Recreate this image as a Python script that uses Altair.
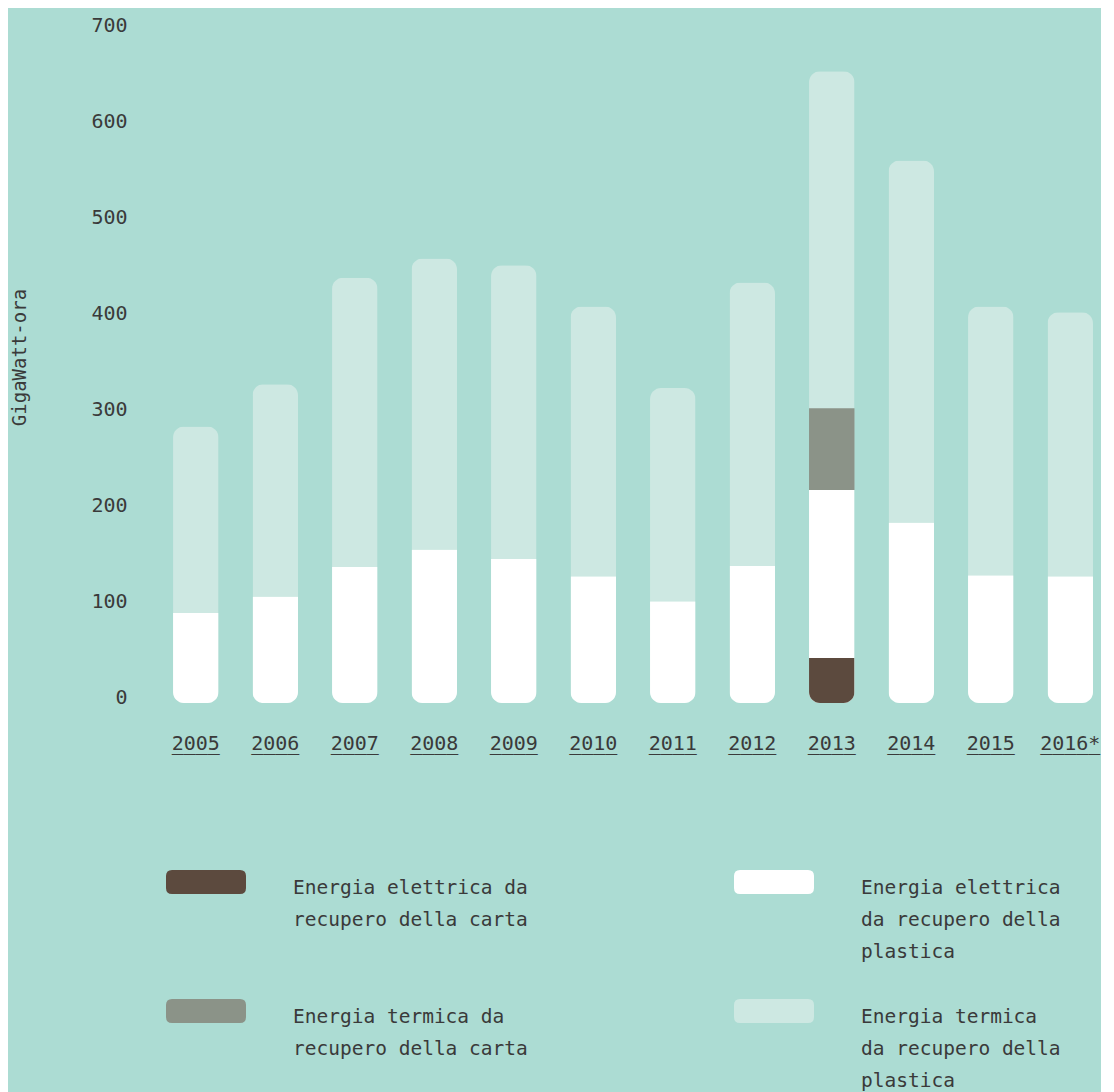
import altair as alt
import pandas as pd

# ---- data (GigaWatt-ora) ----
years = ["2005", "2006", "2007", "2008", "2009", "2010", "2011", "2012", "2013", "2014", "2015", "2016*"]
carta_elettrica = [0, 0, 0, 0, 0, 0, 0, 0, 47, 0, 0, 0]
plastica_elettrica = [94, 111, 142, 160, 150, 132, 106, 143, 175, 188, 133, 132]
carta_termica = [0, 0, 0, 0, 0, 0, 0, 0, 85, 0, 0, 0]
plastica_termica = [194, 221, 301, 303, 306, 281, 222, 295, 351, 377, 280, 275]
y_ticks = [0, 100, 200, 300, 400, 500, 600, 700]

legend_labels = [
    "Energia elettrica da\nrecupero della carta",
    "Energia elettrica\nda recupero della\nplastica",
    "Energia termica da\nrecupero della carta",
    "Energia termica\nda recupero della\nplastica",
]

BG = "#acdcd3"
BROWN = "#5c4a3e"
WHITE = "#ffffff"
GRAY = "#8b9388"
LIGHT = "#cde8e2"
TXT = "#3a3a3a"
FONT = "DejaVu Sans Mono"
legend_colors = [BROWN, WHITE, GRAY, LIGHT]

df = pd.DataFrame({
    "anno": years,
    "ce": carta_elettrica,
    "pe": plastica_elettrica,
    "ct": carta_termica,
    "pt": plastica_termica,
})
df["top_ce"] = df["ce"]
df["top_pe"] = df["ce"] + df["pe"]
df["top_ct"] = df["top_pe"] + df["ct"]
df["top_pt"] = df["top_ct"] + df["pt"]
df["under"] = df["anno"].map(lambda s: "_" * len(s))

TITLE = "GigaWatt-ora"
xenc = alt.X("anno:N", sort=years,
             scale=alt.Scale(paddingInner=0.428, paddingOuter=0.126, align=0.85),
             axis=None)
yscale = alt.Scale(domain=[0, 700], nice=False)
yaxis = alt.Axis(values=y_ticks, grid=False, domain=False, ticks=False,
                 labelFont=FONT, labelFontSize=20, labelColor=TXT,
                 labelBaseline="alphabetic", labelAlign="right", labelPadding=29,
                 title=TITLE, titleFont=FONT, titleFontSize=19, titleFontWeight="normal",
                 titleColor=TXT, titleBaseline="alphabetic", titleX=-131, titleY=326)

light = alt.Chart(df).mark_bar(color=LIGHT, cornerRadius=11).encode(
    x=xenc, y=alt.Y("top_pt:Q", scale=yscale, axis=yaxis, title=TITLE))
white = alt.Chart(df).mark_bar(color=WHITE, cornerRadiusBottomLeft=11,
                               cornerRadiusBottomRight=11).encode(
    x=xenc, y=alt.Y("top_pe:Q", title=TITLE))
gray = alt.Chart(df).transform_filter("datum.ct > 0").mark_bar(color=GRAY).encode(
    x=xenc, y=alt.Y("top_pe:Q", title=TITLE), y2="top_ct:Q")
brown = alt.Chart(df).transform_filter("datum.ce > 0").mark_bar(
    color=BROWN, cornerRadiusBottomLeft=11, cornerRadiusBottomRight=11).encode(
    x=xenc, y=alt.Y("top_ce:Q", title=TITLE))
xlabels = alt.Chart(df).mark_text(font=FONT, fontSize=20, color=TXT,
                                  baseline="alphabetic").encode(
    x=xenc, y=alt.value(719), text="anno:N")
xunder = alt.Chart(df).mark_text(font=FONT, fontSize=20, color=TXT,
                                 baseline="alphabetic").encode(
    x=xenc, y=alt.value(719), text="under:N")

main = alt.layer(light, white, gray, brown, xlabels, xunder).properties(width=940, height=672)

# ---- legend ----
leg = pd.DataFrame({
    "label": legend_labels,
    "color": legend_colors,
    "col": [i % 2 for i in range(len(legend_labels))],
    "row": [i // 2 for i in range(len(legend_labels))],
})
RR = ("M-0.85,-0.3 L0.85,-0.3 Q1,-0.3 1,-0.15 L1,0.15 Q1,0.3 0.85,0.3 "
      "L-0.85,0.3 Q-1,0.3 -1,0.15 L-1,-0.15 Q-1,-0.3 -0.85,-0.3 Z")
lbase = alt.Chart(leg).encode(
    x=alt.X("col:Q", scale=alt.Scale(domain=[0, 1], range=[50, 618]), axis=None),
    y=alt.Y("row:Q", scale=alt.Scale(domain=[0, 1], range=[12, 141]), axis=None),
)
lsym = lbase.mark_point(shape=RR, size=6400, filled=True, opacity=1, strokeWidth=0).encode(
    color=alt.Color("color:N", scale=None))
ltxt = lbase.mark_text(align="left", baseline="top", dx=87, dy=-3, lineBreak="\n",
                       lineHeight=32, font=FONT, fontSize=19.5, color=TXT).encode(
    text="label:N")
legend = alt.layer(lsym, ltxt).properties(width=940, height=230)

chart = alt.vconcat(main, legend, spacing=116).configure(
    background=BG, padding={"top": 7, "left": 2, "right": 0, "bottom": 0}
).configure_view(stroke=None)

chart.save("out.html", embed_options={"renderer": "svg", "actions": False})
